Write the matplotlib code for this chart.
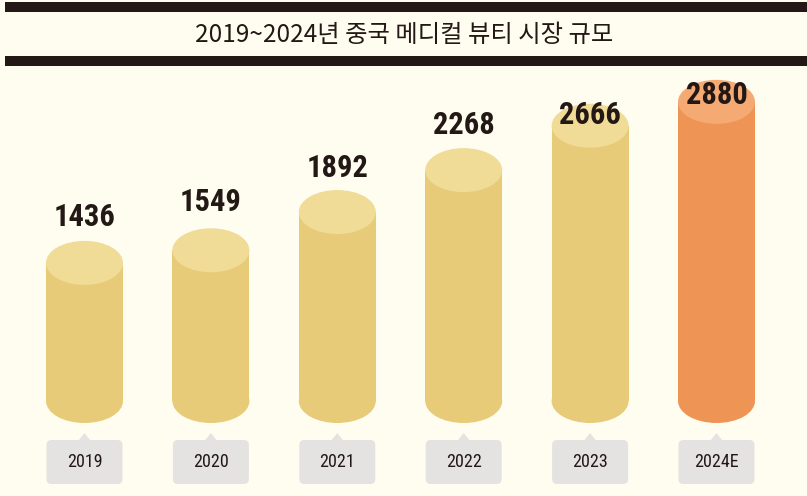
import matplotlib
matplotlib.use("Agg")
import matplotlib.pyplot as plt
from matplotlib.patches import Ellipse, Rectangle, FancyBboxPatch, Polygon
from matplotlib import font_manager as fm

# ---- data ----
years = ["2019", "2020", "2021", "2022", "2023", "2024E"]
values = [1436, 1549, 1892, 2268, 2666, 2880]
title = "2019~2024년 중국 메디컬 뷰티 시장 규모"

# ---- style ----
W, H, DPI = 807, 496, 100
bg = "#FEFDF0"
ink = "#231815"
body_gold, top_gold = "#E8CB78", "#F0DC97"
body_org, top_org = "#EE9556", "#F5A973"
box_col = "#E4E3E1"

names = {f.name for f in fm.fontManager.ttflist}
def pick(prefs):
    for p in prefs:
        if p in names:
            return p
    return "DejaVu Sans"

narrow = pick(["Roboto Condensed", "Archivo Narrow", "Barlow Condensed",
               "Liberation Sans Narrow", "Roboto"])

fig = plt.figure(figsize=(W / DPI, H / DPI), dpi=DPI, facecolor=bg)
ax = fig.add_axes([0, 0, 1, 1])
ax.set_facecolor(bg)
ax.axis("off")

k = 0.1115
x0, dx = 84.5, 126.4
ax.set_xlim(-x0 / dx, (W - x0) / dx)
ax.set_ylim(-(H - 423) / k, 423 / k)

def px_w(p):
    return p / dx

def px_h(p):
    return p / k

bw = px_w(77)
eh = px_h(44)
base = px_h(22)

for i, (yr, v) in enumerate(zip(years, values)):
    last = i == len(values) - 1
    bc = body_org if last else body_gold
    tc = top_org if last else top_gold
    ax.add_patch(Ellipse((i, base), bw, eh, facecolor=bc, edgecolor="none", zorder=2))
    ax.add_patch(Rectangle((i - bw / 2, base), bw, v - base, facecolor=bc, edgecolor="none", zorder=2))
    ax.add_patch(Ellipse((i, v), bw, eh, facecolor=tc, edgecolor="none", zorder=3))

label_off_px = [46, 48, 44, 45, 11, 7]
for i, v in enumerate(values):
    ax.text(i, v + px_h(label_off_px[i]), f"{v}", ha="center", va="center",
            fontsize=22, fontweight="bold", family=[narrow, "DejaVu Sans"],
            color=ink, zorder=5)

for i, yr in enumerate(years):
    bx = px_w(76)
    y_top = -px_h(440 - 423)
    y_bot = -px_h(484 - 423)
    ax.add_patch(FancyBboxPatch((i - bx / 2, y_bot), bx, y_top - y_bot,
                                boxstyle=f"round,pad=0,rounding_size={px_w(5)}",
                                mutation_aspect=dx / k,
                                facecolor=box_col, edgecolor="none", zorder=2))
    ax.add_patch(Polygon([(i - px_w(6), y_top - px_h(0.5)), (i + px_w(6), y_top - px_h(0.5)),
                          (i, y_top + px_h(7))], closed=True, facecolor=box_col,
                         edgecolor="none", zorder=2))
    ax.text(i, -px_h(462 - 423), yr, ha="center", va="center", fontsize=13,
            family=[narrow, "DejaVu Sans"], color=ink, zorder=5)

fig.patches.append(Rectangle((5 / W, 1 - 12 / H), 1, 10 / H, transform=fig.transFigure,
                             facecolor=ink, edgecolor="none"))
fig.patches.append(Rectangle((5 / W, 1 - 66 / H), 1, 10 / H, transform=fig.transFigure,
                             facecolor=ink, edgecolor="none"))
fig.text(404 / W, 1 - 35 / H, title, ha="center", va="center", fontsize=17.5,
         family=["Noto Sans CJK KR", "DejaVu Sans"], color=ink)

fig.savefig("out.png", dpi=DPI, facecolor=bg)
